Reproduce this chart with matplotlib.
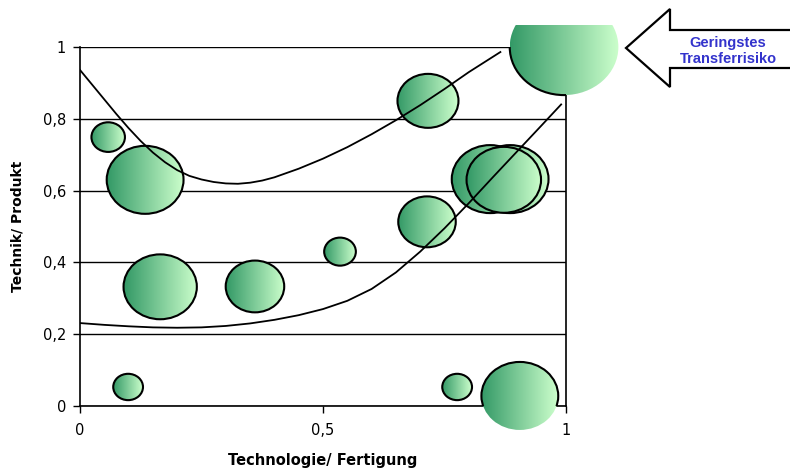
import numpy as np
import matplotlib
matplotlib.use('Agg')
import matplotlib.pyplot as plt
from matplotlib.patches import Ellipse, Polygon
from matplotlib.colors import LinearSegmentedColormap
from matplotlib.transforms import Bbox, TransformedBbox

plt.rcParams['font.family'] = ['DejaVu Sans']

# Bewertung der Projekte: Technologie/Fertigung (x), Technik/Produkt (y), Gewicht (Blasengroesse)
tech_fert = [0.058, 0.134, 0.165, 0.360, 0.535, 0.714, 0.716, 0.844, 0.885, 0.872, 0.099, 0.776, 0.905, 0.996]
tech_prod = [0.749, 0.630, 0.332, 0.333, 0.430, 0.513, 0.850, 0.632, 0.632, 0.630, 0.053, 0.053, 0.028, 1.000]
gewicht = [0.19, 1.00, 0.91, 0.58, 0.17, 0.56, 0.63, 1.00, 1.00, 0.94, 0.15, 0.15, 1.00, 2.00]

oben_x = [0, 0.025, 0.05, 0.075, 0.1, 0.125, 0.15, 0.175, 0.2, 0.225, 0.25, 0.275, 0.3,
          0.325, 0.35, 0.375, 0.4, 0.45, 0.5, 0.55, 0.6, 0.65, 0.7, 0.75, 0.8, 0.865]
oben_y = [0.936, 0.895, 0.854, 0.813, 0.774, 0.738, 0.706, 0.679, 0.657, 0.641, 0.631, 0.624, 0.620,
          0.619, 0.622, 0.628, 0.637, 0.661, 0.689, 0.721, 0.757, 0.796, 0.838, 0.883, 0.930, 0.986]
unten_x = [0, 0.05, 0.1, 0.15, 0.2, 0.25, 0.3, 0.35, 0.4, 0.45, 0.5, 0.55, 0.6, 0.65,
           0.7, 0.75, 0.8, 0.85, 0.9, 0.95, 0.99]
unten_y = [0.231, 0.226, 0.222, 0.219, 0.218, 0.219, 0.223, 0.230, 0.240, 0.253, 0.270, 0.293, 0.326, 0.372,
           0.430, 0.495, 0.565, 0.638, 0.710, 0.782, 0.840]

W, H = 790, 468
fig = plt.figure(figsize=(W / 100, H / 100), dpi=100)
x0, x1, y0, y1 = 80, 566, 47, 406
ax = fig.add_axes([x0 / W, 1 - y1 / H, (x1 - x0) / W, (y1 - y0) / H])
ax_w, ax_h = x1 - x0, y1 - y0

ax.set_axisbelow(True)
ax.yaxis.grid(True, color='black', lw=1)

cmap = LinearSegmentedColormap.from_list('gruen', ['#339966', '#ccffcc'])
grad = np.linspace(0, 1, 256).reshape(1, -1)
# Fuellung darf ueber den Plotbereich hinaus, oben begrenzt durch den Diagrammbereich
fill_box = TransformedBbox(Bbox.from_extents(0, 0, 1, 1 - 25 / H), fig.transFigure)

for x, y, g in zip(tech_fert, tech_prod, gewicht):
    ry = 34 * np.sqrt(g)
    rx = 1.13 * ry
    w = 2 * rx / ax_w
    h = 2 * ry / ax_h
    clip = Ellipse((x, y), w, h, transform=ax.transData)
    im = ax.imshow(grad, cmap=cmap, aspect='auto', interpolation='bilinear',
                   extent=[x - w / 2, x + w / 2, y - h / 2, y + h / 2], zorder=2)
    im.set_clip_box(fill_box)
    im.set_clip_path(clip)
    ax.add_patch(Ellipse((x, y), w, h, fill=False, ec='black', lw=1.5, zorder=2))

ax.plot(oben_x, oben_y, color='black', lw=1.3, zorder=3, solid_joinstyle='round')
ax.plot(unten_x, unten_y, color='black', lw=1.3, zorder=3, solid_joinstyle='round')

ax.set_xlim(0, 1)
ax.set_ylim(0, 1)
ax.set_xticks([0, 0.5, 1])
ax.set_xticklabels(['0', '0,5', '1'])
ax.set_yticks([0, 0.2, 0.4, 0.6, 0.8, 1])
ax.set_yticklabels(['0', '0,2', '0,4', '0,6', '0,8', '1'])
ax.tick_params(axis='both', direction='out', length=5, width=1, labelsize=10.5, colors='black')
ax.tick_params(axis='x', pad=7)
ax.tick_params(axis='y', pad=5)

ax.spines['top'].set_visible(False)
for s in ['left', 'bottom', 'right']:
    ax.spines[s].set_linewidth(1.2)
    ax.spines[s].set_color('black')
    ax.spines[s].set_zorder(1.5)

ax.set_xlabel('Technologie/ Fertigung', fontsize=10.5, fontweight='bold')
ax.xaxis.label.set_va('center')
ax.xaxis.set_label_coords(0.5, (y1 - 460) / ax_h)
ax.set_ylabel('Technik/ Produkt', fontsize=10, fontweight='bold')
ax.yaxis.label.set_va('center')
ax.yaxis.set_label_coords((18 - x0) / ax_w, 0.5)

# Blockpfeil nach links
pts = [(626, 48), (670, 9), (670, 30), (800, 30), (800, 68), (670, 68), (670, 87)]
arrow = Polygon([(px / W, 1 - py / H) for px, py in pts], closed=True,
                transform=fig.transFigure, fc='white', ec='black', lw=1.6)
fig.add_artist(arrow)
fig.text(728 / W, 1 - 51 / H, 'Geringstes\nTransferrisiko', ha='center', va='center',
         color='#3333cc', fontsize=10.5, fontweight='bold', linespacing=1.1,
         family=['Liberation Sans', 'DejaVu Sans'])

fig.savefig('out.png', dpi=100, facecolor='white')
